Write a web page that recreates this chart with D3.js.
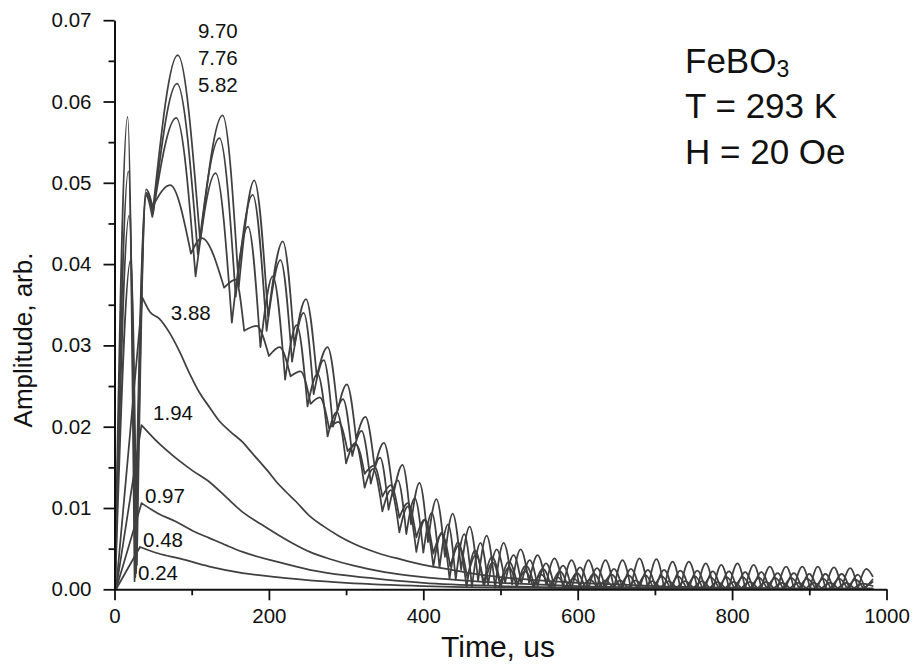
<!DOCTYPE html>
<html>
<head>
<meta charset="utf-8">
<script src="https://cdn.jsdelivr.net/npm/d3@7"></script>
<style>
  html, body { margin: 0; padding: 0; background: #fff; }
  svg { display: block; }
  text { font-family: "Liberation Sans", Arial, sans-serif; fill: #111; }
</style>
</head>
<body>
<svg id="chart" width="915" height="671"></svg>
<script>
// ---------------- DATA (time in us, amplitude in arb. units) ----------------
const xMajorTicks = [0, 200, 400, 600, 800, 1000];
const xMinorTicks = [100, 300, 500, 700, 900];
const yMajorTicks = [0, 0.01, 0.02, 0.03, 0.04, 0.05, 0.06, 0.07];
const yMinorTicks = [0.005, 0.015, 0.025, 0.035, 0.045, 0.055, 0.065];

const fieldLabels = ["9.70", "7.76", "5.82", "3.88", "1.94", "0.97", "0.48", "0.24"];

// oscillating responses: alternating extrema [t, amplitude]
const amp970 = [[0.5,0],[17,0.0581],[26,0.0010],[41,0.0492],[50,0.0468],[82,0.0657],[111,0.0428],[140,0.0583],[161,0.0372],[181,0.0503],[199,0.0335],[218,0.0428],[233,0.0300],[248,0.0357],[262,0.0262],[276,0.0298],[289,0.0220],[301,0.0252],[313,0.0185],[325,0.0212],[337,0.0150],[349,0.0180],[361,0.0115],[373,0.0153],[384,0.0080],[395,0.0131],[406,0.0058],[417,0.0111],[428,0.0040],[438,0.0093],[449,0.0024],[460,0.0077],[471,0.0010],[482,0.0066],[493,0.0002],[504,0.0057],[515,0.0006],[526,0.0049],[537,0.0008],[548,0.0042],[559,0.0006],[570,0.0038],[581,0.0003],[592,0.0036],[603,0.0001],[614,0.0036],[625,0.0001],[636,0.0036],[647,0.0001],[658,0.0036],[669,0.0001],[680,0.0038],[691,0.0001],[702,0.0037],[712,0.0001],[723,0.0034],[733,0.0001],[744,0.0034],[755,0.0001],[766,0.0032],[776,0.0001],[786,0.0030],[796,0.0001],[807,0.0032],[817,0.0001],[828,0.0030],[838,0.0001],[849,0.0028],[859,0.0001],[870,0.0028],[880,0.0001],[891,0.0028],[901,0.0001],[911,0.0028],[921,0.0001],[932,0.0027],[942,0.0001],[953,0.0026],[963,0.0001],[974,0.0025],[982,0.0016]];

const amp776 = [[0.6,0],[18,0.0514],[27,0.0015],[41,0.0488],[50,0.0462],[81,0.0622],[108,0.0412],[136,0.0555],[157,0.0360],[179,0.0485],[197,0.0318],[215,0.0405],[230,0.0280],[245,0.0340],[258,0.0240],[271,0.0282],[283,0.0200],[296,0.0234],[308,0.0164],[320,0.0195],[332,0.0130],[344,0.0162],[355,0.0098],[367,0.0134],[378,0.0068],[389,0.0112],[400,0.0045],[411,0.0094],[421,0.0027],[432,0.0080],[442,0.0012],[453,0.0068],[463,0.0003],[474,0.0057],[484,0.0006],[495,0.0049],[506,0.0008],[517,0.0042],[527,0.0007],[538,0.0036],[548,0.0004],[559,0.0032],[570,0.0002],[581,0.0029],[592,0.0001],[603,0.0027],[614,0.0001],[625,0.0026],[636,0.0001],[647,0.0025],[658,0.0001],[669,0.0025],[680,0.0001],[691,0.0024],[701,0.0001],[712,0.0024],[722,0.0001],[733,0.0023],[744,0.0001],[755,0.0023],[765,0.0001],[775,0.0022],[785,0.0001],[796,0.0022],[806,0.0001],[817,0.0021],[827,0.0001],[838,0.0021],[848,0.0001],[859,0.0020],[869,0.0001],[880,0.0020],[890,0.0001],[900,0.0019],[910,0.0001],[921,0.0019],[931,0.0001],[942,0.0019],[952,0.0001],[963,0.0018],[972,0.0001],[982,0.0012]];

const amp582 = [[0.7,0],[19,0.0460],[28,0.0020],[41,0.0484],[49,0.0458],[80,0.0580],[105,0.0385],[131,0.0512],[152,0.0328],[173,0.0446],[189,0.0298],[205,0.0385],[221,0.0258],[236,0.0325],[250,0.0225],[263,0.0265],[276,0.0188],[288,0.0218],[300,0.0155],[312,0.0180],[324,0.0125],[335,0.0148],[347,0.0096],[358,0.0122],[369,0.0070],[380,0.0102],[391,0.0046],[402,0.0085],[413,0.0028],[424,0.0070],[434,0.0013],[445,0.0058],[456,0.0003],[467,0.0048],[478,0.0005],[489,0.0040],[500,0.0007],[511,0.0034],[522,0.0006],[533,0.0029],[544,0.0004],[555,0.0025],[566,0.0002],[577,0.0022],[588,0.0001],[599,0.0020],[610,0.0001],[621,0.0019],[632,0.0001],[644,0.0018],[655,0.0001],[666,0.0017],[677,0.0001],[688,0.0017],[698,0.0001],[709,0.0016],[720,0.0001],[730,0.0016],[741,0.0001],[752,0.0016],[762,0.0001],[772,0.0015],[783,0.0001],[793,0.0015],[803,0.0001],[814,0.0015],[824,0.0001],[835,0.0014],[845,0.0001],[856,0.0014],[866,0.0001],[877,0.0014],[887,0.0001],[897,0.0013],[908,0.0001],[918,0.0013],[928,0.0001],[939,0.0013],[949,0.0001],[960,0.0012],[970,0.0001],[982,0.0009]];

const amp388 = [[0.8,0],[21,0.0405],[29,0.0030],[41,0.0486],[49,0.0470],[72,0.0497],[99,0.0413],[113,0.0432],[142,0.0371],[157,0.0381],[168,0.0318],[184,0.0324],[200,0.0287],[214,0.0298],[228,0.0262],[241,0.0268],[254,0.0228],[266,0.0236],[278,0.0198],[290,0.0206],[302,0.0170],[313,0.0178],[324,0.0142],[336,0.0152],[347,0.0114],[358,0.0128],[369,0.0088],[380,0.0106],[391,0.0064],[402,0.0086],[413,0.0044],[424,0.0068],[435,0.0028],[446,0.0054],[457,0.0014],[468,0.0042],[479,0.0005],[490,0.0033],[500,0.0002],[511,0.0027],[521,0.0003],[532,0.0022],[542,0.0004],[553,0.0018],[563,0.0003],[574,0.0015],[584,0.0002],[595,0.0013],[605,0.0001],[616,0.0012],[626,0.0001],[636,0.0011],[646,0.0001],[655,0.0011],[665,0.0001],[675,0.0011],[686,0.0001],[697,0.0010],[707,0.0001],[718,0.0010],[728,0.0001],[739,0.0010],[750,0.0001],[761,0.0010],[771,0.0001],[781,0.0009],[791,0.0001],[802,0.0009],[812,0.0001],[823,0.0009],[833,0.0001],[844,0.0009],[854,0.0001],[865,0.0008],[875,0.0001],[886,0.0008],[896,0.0001],[906,0.0008],[916,0.0001],[927,0.0008],[937,0.0001],[948,0.0008],[958,0.0001],[969,0.0007],[982,0.0004]];

// smooth (non-oscillating) responses: linear rise, then decay
const amp194 = [[2,0],[36,0.0359],[46,0.0341],[58,0.0333],[71,0.0316],[84,0.0293],[97,0.0266],[110,0.0242],[123,0.0224],[135,0.0208],[150,0.0194],[166,0.0181],[177,0.0169],[188,0.0157],[199,0.0145],[210,0.0132],[222,0.0120],[235,0.0108],[253,0.0090],[270,0.0078],[290,0.0066],[310,0.0056],[340,0.0045],[370,0.0037],[400,0.0030],[430,0.0025],[460,0.0020],[500,0.0015],[550,0.0011],[600,0.0008],[650,0.0006],[700,0.0004],[800,0.0002],[900,0.0001],[982,0.0001]];
const amp097 = [[2,0],[35,0.0202],[57,0.0180],[80,0.0161],[101,0.0146],[123,0.0132],[145,0.0113],[166,0.0095],[190,0.0080],[210,0.0068],[230,0.0057],[253,0.0046],[280,0.0037],[310,0.0029],[350,0.0021],[400,0.0015],[450,0.0011],[500,0.0008],[600,0.0004],[700,0.0002],[800,0.0001],[982,0.00005]];
const amp048 = [[2,0],[35,0.0106],[57,0.0093],[80,0.0083],[101,0.0072],[123,0.0063],[145,0.0054],[166,0.0046],[210,0.0034],[253,0.0024],[300,0.0017],[350,0.0012],[400,0.0008],[500,0.0004],[600,0.0002],[800,0.0001],[982,0.00003]];
const amp024 = [[2,0],[33,0.0052],[57,0.0044],[84,0.0038],[123,0.0028],[166,0.0020],[210,0.0015],[253,0.0011],[300,0.0008],[400,0.0004],[500,0.0002],[700,0.0001],[982,0.00002]];

// ---------------- LAYOUT ----------------
const svg = d3.select("#chart");
const x = d3.scaleLinear().domain([0, 1000]).range([114.5, 886.5]);
const y = d3.scaleLinear().domain([0, 0.07]).range([589.3, 20.2]);

const seriesList = [
  { data: amp970, smooth: false },
  { data: amp776, smooth: false },
  { data: amp582, smooth: false },
  { data: amp388, smooth: false },
  { data: amp194, smooth: true },
  { data: amp097, smooth: true },
  { data: amp048, smooth: true },
  { data: amp024, smooth: true }
];

// label anchors in data coordinates (left edge, baseline), same order as fieldLabels
const labelAnchors = [[108,0.06777],[108,0.06449],[108,0.06120],[73,0.03312],[50,0.02082],[39.5,0.01061],[37,0.00524],[30.5,0.00114]];

const lineGen = d3.line().x(d => x(d[0])).y(d => y(d[1])).curve(d3.curveMonotoneX);

function buildPath(pts, cornerAtPeak) {
  const maxI = d3.maxIndex(pts, d => d[1]);
  const breaks = [];
  for (let i = 1; i < pts.length - 1; i++) {
    const isMin = pts[i][1] < pts[i-1][1] && pts[i][1] < pts[i+1][1];
    if (isMin || (cornerAtPeak && i === maxI)) breaks.push(i);
  }
  const segs = [];
  let s = 0;
  for (const b of breaks) { segs.push(pts.slice(s, b + 1)); s = b; }
  segs.push(pts.slice(s));
  return segs.map(seg => lineGen(seg)).join("");
}

const curves = svg.append("g");
seriesList.forEach(sr => {
  curves.append("path")
    .attr("d", buildPath(sr.data, sr.smooth))
    .attr("fill", "none")
    .attr("stroke", "#404040")
    .attr("stroke-width", 1.75)
    .attr("stroke-linecap", "round")
    .attr("stroke-linejoin", "round");
});

// axes
const tickFont = 20.5;
const gx = svg.append("g").attr("transform", `translate(0,${y(0)})`)
  .call(d3.axisBottom(x).tickValues(xMajorTicks).tickSize(11).tickPadding(8).tickSizeOuter(0).tickFormat(d3.format("d")));
const gxm = svg.append("g").attr("transform", `translate(0,${y(0)})`)
  .call(d3.axisBottom(x).tickValues(xMinorTicks).tickSize(6).tickFormat(""));
gxm.select(".domain").remove();

const gy = svg.append("g").attr("transform", `translate(${x(0)},0)`)
  .call(d3.axisLeft(y).tickValues(yMajorTicks).tickSize(11).tickPadding(12).tickSizeOuter(0).tickFormat(d3.format(".2f")));
const gym = svg.append("g").attr("transform", `translate(${x(0)},0)`)
  .call(d3.axisLeft(y).tickValues(yMinorTicks).tickSize(6).tickFormat(""));
gym.select(".domain").remove();

[gx, gy, gxm, gym].forEach(g => {
  g.selectAll(".domain").attr("stroke", "#111").attr("stroke-width", 2);
  g.selectAll(".tick line").attr("stroke", "#111").attr("stroke-width", 1.8);
  g.selectAll(".tick text").attr("font-size", tickFont).attr("fill", "#111")
    .style("font-family", '"Liberation Sans", Arial, sans-serif');
});

// axis titles
svg.append("text")
  .attr("x", 498).attr("y", 657)
  .attr("text-anchor", "middle").attr("font-size", 30)
  .text("Time, us");
svg.append("text")
  .attr("transform", "translate(32,340) rotate(-90)")
  .attr("text-anchor", "middle").attr("font-size", 26)
  .text("Amplitude, arb.");

// curve labels
svg.append("g").selectAll("text").data(fieldLabels).join("text")
  .attr("x", (d, i) => x(labelAnchors[i][0]))
  .attr("y", (d, i) => y(labelAnchors[i][1]))
  .attr("font-size", 20.5)
  .text(d => d);

// sample / conditions annotation
const ann = svg.append("g").attr("font-size", 35);
const t1 = ann.append("text").attr("x", 685).attr("y", 73.3);
t1.append("tspan").text("FeBO");
t1.append("tspan").attr("font-size", 23).attr("dy", 3.4).text("3");
ann.append("text").attr("x", 685).attr("y", 118.3).text("T = 293 K");
ann.append("text").attr("x", 685).attr("y", 164).text("H = 20 Oe");
</script>
</body>
</html>
